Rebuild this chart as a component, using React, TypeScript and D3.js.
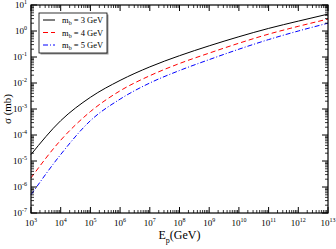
import React from "react";
import * as d3 from "d3";

// log10(E_p / GeV) sample points
const logE = [3, 4, 5, 6, 7, 8, 9, 10, 11, 12, 13];
// log10(sigma / mb) for each b-quark mass
const mb3 = [-4.75, -3.45, -2.55, -1.9, -1.38, -0.95, -0.57, -0.22, 0.1, 0.38, 0.65];
const mb4 = [-5.65, -4.2, -3.1, -2.3, -1.72, -1.25, -0.85, -0.47, -0.12, 0.18, 0.46];
const mb5 = [-6.3, -4.75, -3.45, -2.62, -2.0, -1.52, -1.1, -0.7, -0.33, 0.0, 0.3];
const seriesNames = ["3 GeV", "4 GeV", "5 GeV"];
const xExps = [3, 4, 5, 6, 7, 8, 9, 10, 11, 12, 13];
const yExps = [-7, -6, -5, -4, -3, -2, -1, 0, 1];

const W = 336, H = 249;
const margin = { top: 5, right: 8, bottom: 36, left: 31 };
const font = "'Liberation Serif', 'Times New Roman', serif";

export default function App() {
  const iw = W - margin.left - margin.right;
  const ih = H - margin.top - margin.bottom;
  const x = d3.scaleLog().domain([1e3, 1e13]).range([0, iw]);
  const y = d3.scaleLog().domain([1e-7, 1e1]).range([ih, 0]);

  const series = [
    { vals: mb3, color: "#000000", dash: "none" },
    { vals: mb4, color: "#ff0000", dash: "5,3" },
    { vals: mb5, color: "#0000ff", dash: "5,2,1,2" },
  ];
  const line = d3.line<[number, number]>()
    .x(d => x(Math.pow(10, d[0])))
    .y(d => y(Math.pow(10, d[1])))
    .curve(d3.curveMonotoneX);

  const minorX: number[] = [];
  for (let e = 3; e < 13; e++) for (let m = 2; m <= 9; m++) minorX.push(m * Math.pow(10, e));
  const minorY: number[] = [];
  for (let e = -7; e < 1; e++) for (let m = 2; m <= 9; m++) minorY.push(m * Math.pow(10, e));

  return (
    <svg width={W} height={H} style={{ position: "absolute", left: 0, top: 0, background: "#fff" }}>
      <g transform={`translate(${margin.left},${margin.top})`} fontFamily={font}>
        {series.map((s, i) => (
          <path key={i} d={line(logE.map((e, j) => [e, s.vals[j]]) as [number, number][]) || ""}
            fill="none" stroke={s.color} strokeWidth={1} strokeDasharray={s.dash} />
        ))}
        <rect x={0} y={0} width={iw} height={ih} fill="none" stroke="#000" strokeWidth={1.2} />
        {xExps.map(e => (
          <g key={"xm" + e}>
            <line x1={x(Math.pow(10, e))} x2={x(Math.pow(10, e))} y1={ih} y2={ih - 6} stroke="#000" />
            <line x1={x(Math.pow(10, e))} x2={x(Math.pow(10, e))} y1={0} y2={6} stroke="#000" />
            <text x={x(Math.pow(10, e))} y={ih + 13} textAnchor="middle" fontSize={9}>
              10<tspan dy={-4} fontSize={6}>{e}</tspan>
            </text>
          </g>
        ))}
        {minorX.map((v, i) => (
          <g key={"xn" + i}>
            <line x1={x(v)} x2={x(v)} y1={ih} y2={ih - 3} stroke="#000" strokeWidth={0.8} />
            <line x1={x(v)} x2={x(v)} y1={0} y2={3} stroke="#000" strokeWidth={0.8} />
          </g>
        ))}
        {yExps.map(e => (
          <g key={"ym" + e}>
            <line x1={0} x2={6} y1={y(Math.pow(10, e))} y2={y(Math.pow(10, e))} stroke="#000" />
            <line x1={iw} x2={iw - 6} y1={y(Math.pow(10, e))} y2={y(Math.pow(10, e))} stroke="#000" />
            <text x={-4} y={y(Math.pow(10, e)) + 3} textAnchor="end" fontSize={9}>
              10<tspan dy={-4} fontSize={6}>{e}</tspan>
            </text>
          </g>
        ))}
        {minorY.map((v, i) => (
          <g key={"yn" + i}>
            <line x1={0} x2={3} y1={y(v)} y2={y(v)} stroke="#000" strokeWidth={0.8} />
            <line x1={iw} x2={iw - 3} y1={y(v)} y2={y(v)} stroke="#000" strokeWidth={0.8} />
          </g>
        ))}
        <text x={iw / 2} y={ih + 26} textAnchor="middle" fontSize={12}>
          E<tspan dy={4} fontSize={8}>p</tspan><tspan dy={-4}>(GeV)</tspan>
        </text>
        <text transform={`translate(${-20},${ih / 2}) rotate(-90)`} textAnchor="middle" fontSize={11}>
          σ (mb)
        </text>
        <g transform="translate(8,8)">
          <rect x={1.5} y={1.5} width={68} height={40} fill="#999" />
          <rect x={0} y={0} width={68} height={40} fill="#fff" stroke="#000" strokeWidth={0.8} />
          {series.map((s, i) => (
            <g key={"lg" + i} transform={`translate(0,${7 + i * 12.5})`}>
              <line x1={4} x2={16} y1={0} y2={0} stroke={s.color} strokeDasharray={s.dash} />
              <text x={23} y={3} fontSize={8.5}>
                m<tspan dy={2} fontSize={6}>b</tspan><tspan dy={-2}> = {seriesNames[i]}</tspan>
              </text>
            </g>
          ))}
        </g>
      </g>
    </svg>
  );
}
